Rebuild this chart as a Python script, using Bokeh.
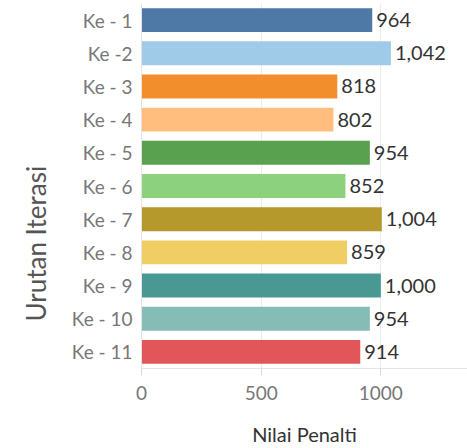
import math
from bokeh.plotting import figure
from bokeh.models import ColumnDataSource, FactorRange, Range1d, FixedTicker, Title
from bokeh.core.properties import value
from bokeh.embed import file_html
from bokeh.resources import INLINE

categories = ["Ke - 1", "Ke -2", "Ke - 3", "Ke - 4", "Ke - 5", "Ke - 6",
              "Ke - 7", "Ke - 8", "Ke - 9", "Ke - 10", "Ke - 11"]
values = [964, 1042, 818, 802, 954, 852, 1004, 859, 1000, 954, 914]
colors = ["#4E79A7", "#A0CBE8", "#F28E2B", "#FFBE7D", "#59A14F", "#8CD17D",
          "#B6992D", "#F1CE63", "#499894", "#86BCB6", "#E15759"]
x_ticks = [0, 500, 1000]

FONT = "Lato"

src = ColumnDataSource(dict(
    cat=categories, val=values, color=colors,
    lab=[f"{v:,}" for v in values],
))

p = figure(width=467, height=448, output_backend="svg", toolbar_location=None,
           y_range=FactorRange(factors=list(reversed(categories))),
           x_range=Range1d(0, 1362),
           min_border_left=140, min_border_right=0, min_border_top=3,
           min_border_bottom=76)
p.outline_line_color = None
p.background_fill_color = "white"

p.hbar(y="cat", right="val", left=0, height=0.72, color="color", source=src,
       line_color=None)
p.text(x="val", y="cat", text="lab", source=src, x_offset=4,
       text_baseline="middle", text_align="left", text_font=value(FONT),
       text_font_size="20px", text_color="#333333")

# x axis
p.xaxis.ticker = FixedTicker(ticks=x_ticks)
p.xaxis.major_tick_out = 7
p.xaxis.major_tick_in = 0
p.xaxis.minor_tick_out = 0
p.xaxis.minor_tick_in = 0
p.xaxis.major_tick_line_color = "#d9d9d9"
p.xaxis.axis_line_color = "#e3e3e3"
p.xaxis.major_label_text_font = FONT
p.xaxis.major_label_text_font_size = "19px"
p.xaxis.major_label_text_color = "#777777"
p.xaxis.major_label_standoff = 10
p.xaxis.axis_label = "Nilai Penalti"
p.xaxis.axis_label_text_font = FONT
p.xaxis.axis_label_text_font_size = "20px"
p.xaxis.axis_label_text_font_style = "normal"
p.xaxis.axis_label_text_color = "#333333"
p.xaxis.axis_label_standoff = 19

# y axis
p.yaxis.major_tick_out = 0
p.yaxis.major_tick_in = 0
p.yaxis.axis_line_color = "#e3e3e3"
p.yaxis.major_label_text_font = FONT
p.yaxis.major_label_text_font_size = "19px"
p.yaxis.major_label_text_color = "#777777"
p.yaxis.major_label_standoff = 9

p.xgrid.ticker = FixedTicker(ticks=x_ticks)
p.xgrid.grid_line_color = "#ececec"
p.ygrid.grid_line_color = None

ytitle = Title(text="Urutan Iterasi", align="left", offset=47, standoff=34,
               text_font=FONT, text_font_size="26px", text_font_style="normal",
               text_color="#555555")
p.add_layout(ytitle, "left")

open("out.html", "w").write(file_html(p, INLINE))
